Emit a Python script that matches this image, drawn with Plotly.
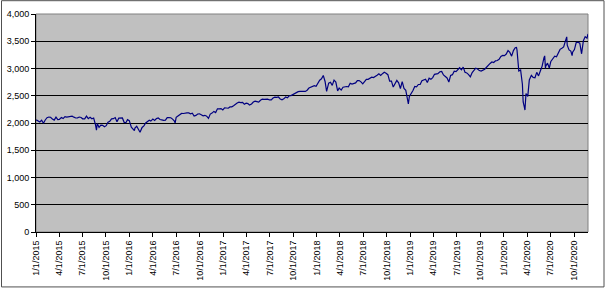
import plotly.graph_objects as go

dates = [
"2015-01-02","2015-01-09","2015-01-16","2015-01-23","2015-01-30","2015-02-06","2015-02-13","2015-02-20","2015-02-27",
"2015-03-06","2015-03-13","2015-03-20","2015-03-27","2015-04-02","2015-04-10","2015-04-17","2015-04-24","2015-05-01",
"2015-05-08","2015-05-15","2015-05-22","2015-05-29","2015-06-05","2015-06-12","2015-06-19","2015-06-26","2015-07-02",
"2015-07-10","2015-07-17","2015-07-24","2015-07-31","2015-08-07","2015-08-14","2015-08-21","2015-08-25","2015-08-28",
"2015-09-04","2015-09-11","2015-09-18","2015-09-25","2015-10-02","2015-10-09","2015-10-16","2015-10-23","2015-10-30",
"2015-11-06","2015-11-13","2015-11-20","2015-11-27","2015-12-04","2015-12-11","2015-12-18","2015-12-24","2015-12-31",
"2016-01-08","2016-01-15","2016-01-20","2016-01-22","2016-01-29","2016-02-05","2016-02-11","2016-02-19","2016-02-26",
"2016-03-04","2016-03-11","2016-03-18","2016-03-24","2016-04-01","2016-04-08","2016-04-15","2016-04-22","2016-04-29",
"2016-05-06","2016-05-13","2016-05-20","2016-05-27","2016-06-03","2016-06-10","2016-06-17","2016-06-24","2016-06-27",
"2016-07-01","2016-07-08","2016-07-15","2016-07-22","2016-07-29","2016-08-05","2016-08-12","2016-08-19","2016-08-26",
"2016-09-02","2016-09-09","2016-09-16","2016-09-23","2016-09-30","2016-10-07","2016-10-14","2016-10-21","2016-10-28",
"2016-11-04","2016-11-11","2016-11-18","2016-11-25","2016-12-02","2016-12-09","2016-12-16","2016-12-23","2016-12-30",
"2017-01-06","2017-01-13","2017-01-20","2017-01-27","2017-02-03","2017-02-10","2017-02-17","2017-02-24","2017-03-03",
"2017-03-10","2017-03-17","2017-03-24","2017-03-31","2017-04-07","2017-04-13","2017-04-21","2017-04-28","2017-05-05",
"2017-05-12","2017-05-19","2017-05-26","2017-06-02","2017-06-09","2017-06-16","2017-06-23","2017-06-30","2017-07-07",
"2017-07-14","2017-07-21","2017-07-28","2017-08-04","2017-08-11","2017-08-18","2017-08-25","2017-09-01","2017-09-08",
"2017-09-15","2017-09-22","2017-09-29","2017-10-06","2017-10-13","2017-10-20","2017-10-27","2017-11-03","2017-11-10",
"2017-11-17","2017-11-24","2017-12-01","2017-12-08","2017-12-15","2017-12-22","2017-12-29",
"2018-01-05","2018-01-12","2018-01-19","2018-01-26","2018-02-02","2018-02-08","2018-02-16","2018-02-23","2018-03-02",
"2018-03-09","2018-03-16","2018-03-23","2018-03-29","2018-04-06","2018-04-13","2018-04-20","2018-04-27","2018-05-04",
"2018-05-11","2018-05-18","2018-05-25","2018-06-01","2018-06-08","2018-06-15","2018-06-22","2018-06-29","2018-07-06",
"2018-07-13","2018-07-20","2018-07-27","2018-08-03","2018-08-10","2018-08-17","2018-08-24","2018-08-31","2018-09-07",
"2018-09-14","2018-09-21","2018-09-28","2018-10-05","2018-10-12","2018-10-19","2018-10-26","2018-11-02","2018-11-09",
"2018-11-16","2018-11-23","2018-11-30","2018-12-07","2018-12-14","2018-12-21","2018-12-24","2018-12-28",
"2019-01-04","2019-01-11","2019-01-18","2019-01-25","2019-02-01","2019-02-08","2019-02-15","2019-02-22","2019-03-01",
"2019-03-08","2019-03-15","2019-03-22","2019-03-29","2019-04-05","2019-04-12","2019-04-18","2019-04-26","2019-05-03",
"2019-05-10","2019-05-17","2019-05-24","2019-05-31","2019-06-07","2019-06-14","2019-06-21","2019-06-28","2019-07-05",
"2019-07-12","2019-07-19","2019-07-26","2019-08-02","2019-08-09","2019-08-16","2019-08-23","2019-08-30","2019-09-06",
"2019-09-13","2019-09-20","2019-09-27","2019-10-04","2019-10-11","2019-10-18","2019-10-25","2019-11-01","2019-11-08",
"2019-11-15","2019-11-22","2019-11-29","2019-12-06","2019-12-13","2019-12-20","2019-12-27","2019-12-31",
"2020-01-03","2020-01-10","2020-01-17","2020-01-24","2020-01-31","2020-02-07","2020-02-14","2020-02-19","2020-02-21",
"2020-02-28","2020-03-06","2020-03-13","2020-03-16","2020-03-20","2020-03-23","2020-03-27","2020-04-03","2020-04-09",
"2020-04-17","2020-04-24","2020-05-01","2020-05-08","2020-05-15","2020-05-22","2020-05-29","2020-06-05","2020-06-08",
"2020-06-11","2020-06-12","2020-06-19","2020-06-26","2020-07-02","2020-07-10","2020-07-17","2020-07-24","2020-07-31",
"2020-08-07","2020-08-14","2020-08-21","2020-08-28","2020-09-02","2020-09-04","2020-09-11","2020-09-18","2020-09-23",
"2020-09-25","2020-10-02","2020-10-09","2020-10-16","2020-10-23","2020-10-30","2020-11-06","2020-11-13","2020-11-20",
"2020-11-24",
]

values = [
2058,2045,2019,2051,1995,2055,2097,2110,2105,
2071,2053,2108,2061,2067,2102,2081,2117,2108,
2116,2123,2126,2107,2092,2094,2110,2102,2077,
2077,2127,2080,2104,2078,2092,1971,1867,1989,
1921,1961,1958,1931,1951,2015,2033,2075,2079,
2099,2023,2089,2090,2092,2012,2006,2061,2044,
1922,1880,1859,1907,1940,1880,1829,1918,1948,
2000,2022,2050,2035,2073,2048,2081,2092,2065,
2057,2047,2052,2099,2099,2096,2071,2037,2001,
2103,2130,2162,2175,2174,2183,2184,2184,2169,
2180,2128,2139,2165,2168,2153,2133,2141,2126,
2085,2164,2182,2213,2192,2260,2258,2264,2239,
2277,2275,2271,2295,2297,2316,2351,2367,2383,
2373,2378,2344,2363,2355,2329,2349,2384,2399,
2391,2382,2416,2439,2432,2433,2438,2423,2425,
2459,2473,2472,2477,2441,2426,2444,2477,2461,
2500,2502,2519,2549,2553,2575,2581,2588,2582,
2579,2602,2642,2652,2676,2684,2674,
2743,2786,2810,2873,2762,2581,2732,2747,2691,
2786,2752,2588,2641,2604,2656,2670,2670,2663,
2728,2713,2721,2735,2779,2780,2755,2718,2760,
2801,2802,2819,2840,2833,2850,2875,2902,2872,
2905,2930,2914,2886,2767,2768,2659,2723,2781,
2736,2633,2760,2633,2600,2417,2351,2486,
2532,2596,2671,2665,2707,2708,2776,2793,2804,
2743,2822,2801,2834,2893,2907,2905,2940,2946,
2881,2860,2826,2752,2873,2887,2950,2942,2990,
3014,2977,3026,2932,2919,2889,2847,2926,2979,
3007,2992,2962,2952,2970,2986,3023,3067,3093,
3120,3110,3141,3146,3169,3221,3240,3231,
3235,3265,3330,3295,3226,3328,3380,3386,3338,
2954,2972,2711,2386,2305,2237,2541,2489,2790,
2875,2837,2831,2930,2864,2955,3044,3194,3232,
3002,3041,3098,3009,3130,3185,3225,3216,3271,
3351,3373,3397,3508,3580,3427,3341,3319,3237,
3298,3348,3477,3484,3465,3270,3510,3585,3558,
3635,
]

tick_dates = ["2015-01-01","2015-04-01","2015-07-01","2015-10-01",
              "2016-01-01","2016-04-01","2016-07-01","2016-10-01",
              "2017-01-01","2017-04-01","2017-07-01","2017-10-01",
              "2018-01-01","2018-04-01","2018-07-01","2018-10-01",
              "2019-01-01","2019-04-01","2019-07-01","2019-10-01",
              "2020-01-01","2020-04-01","2020-07-01","2020-10-01"]
tick_labels = ["1/1/2015","4/1/2015","7/1/2015","10/1/2015",
               "1/1/2016","4/1/2016","7/1/2016","10/1/2016",
               "1/1/2017","4/1/2017","7/1/2017","10/1/2017",
               "1/1/2018","4/1/2018","7/1/2018","10/1/2018",
               "1/1/2019","4/1/2019","7/1/2019","10/1/2019",
               "1/1/2020","4/1/2020","7/1/2020","10/1/2020"]
y_ticks = [0, 500, 1000, 1500, 2000, 2500, 3000, 3500, 4000]

fig = go.Figure()
fig.add_trace(go.Scatter(x=dates, y=values, mode="lines",
                         line=dict(color="#000080", width=1.2),
                         hoverinfo="skip", showlegend=False))

font = dict(family="Liberation Sans, Arial, sans-serif", size=9, color="black")

fig.update_layout(
    width=607, height=289,
    margin=dict(l=36, r=19, t=14, b=57),
    paper_bgcolor="white",
    plot_bgcolor="#C0C0C0",
    font=font,
    xaxis=dict(
        type="date",
        range=["2015-01-01", "2020-11-24"],
        tickvals=tick_dates, ticktext=tick_labels,
        tickangle=-90, tickfont=font,
        ticks="outside", ticklen=4, tickcolor="black",
        showgrid=False, showline=True, linecolor="black", linewidth=1,
        zeroline=False, automargin=False,
    ),
    yaxis=dict(
        range=[0, 4000],
        tickvals=y_ticks, tickformat=",d",
        tickfont=font,
        ticks="outside", ticklen=4, tickcolor="black",
        showgrid=True, gridcolor="black", gridwidth=1,
        showline=True, linecolor="black", linewidth=1,
        zeroline=False, automargin=False,
    ),
    shapes=[
        dict(type="rect", xref="paper", yref="paper", x0=0, x1=1, y0=0, y1=1,
             line=dict(color="#808080", width=1), layer="below"),
        dict(type="rect", xref="paper", yref="paper",
             x0=-0.0625, x1=1.029, y0=-0.252, y1=1.061,
             line=dict(color="#505050", width=1)),
    ],
)

fig.write_html("out.html")
